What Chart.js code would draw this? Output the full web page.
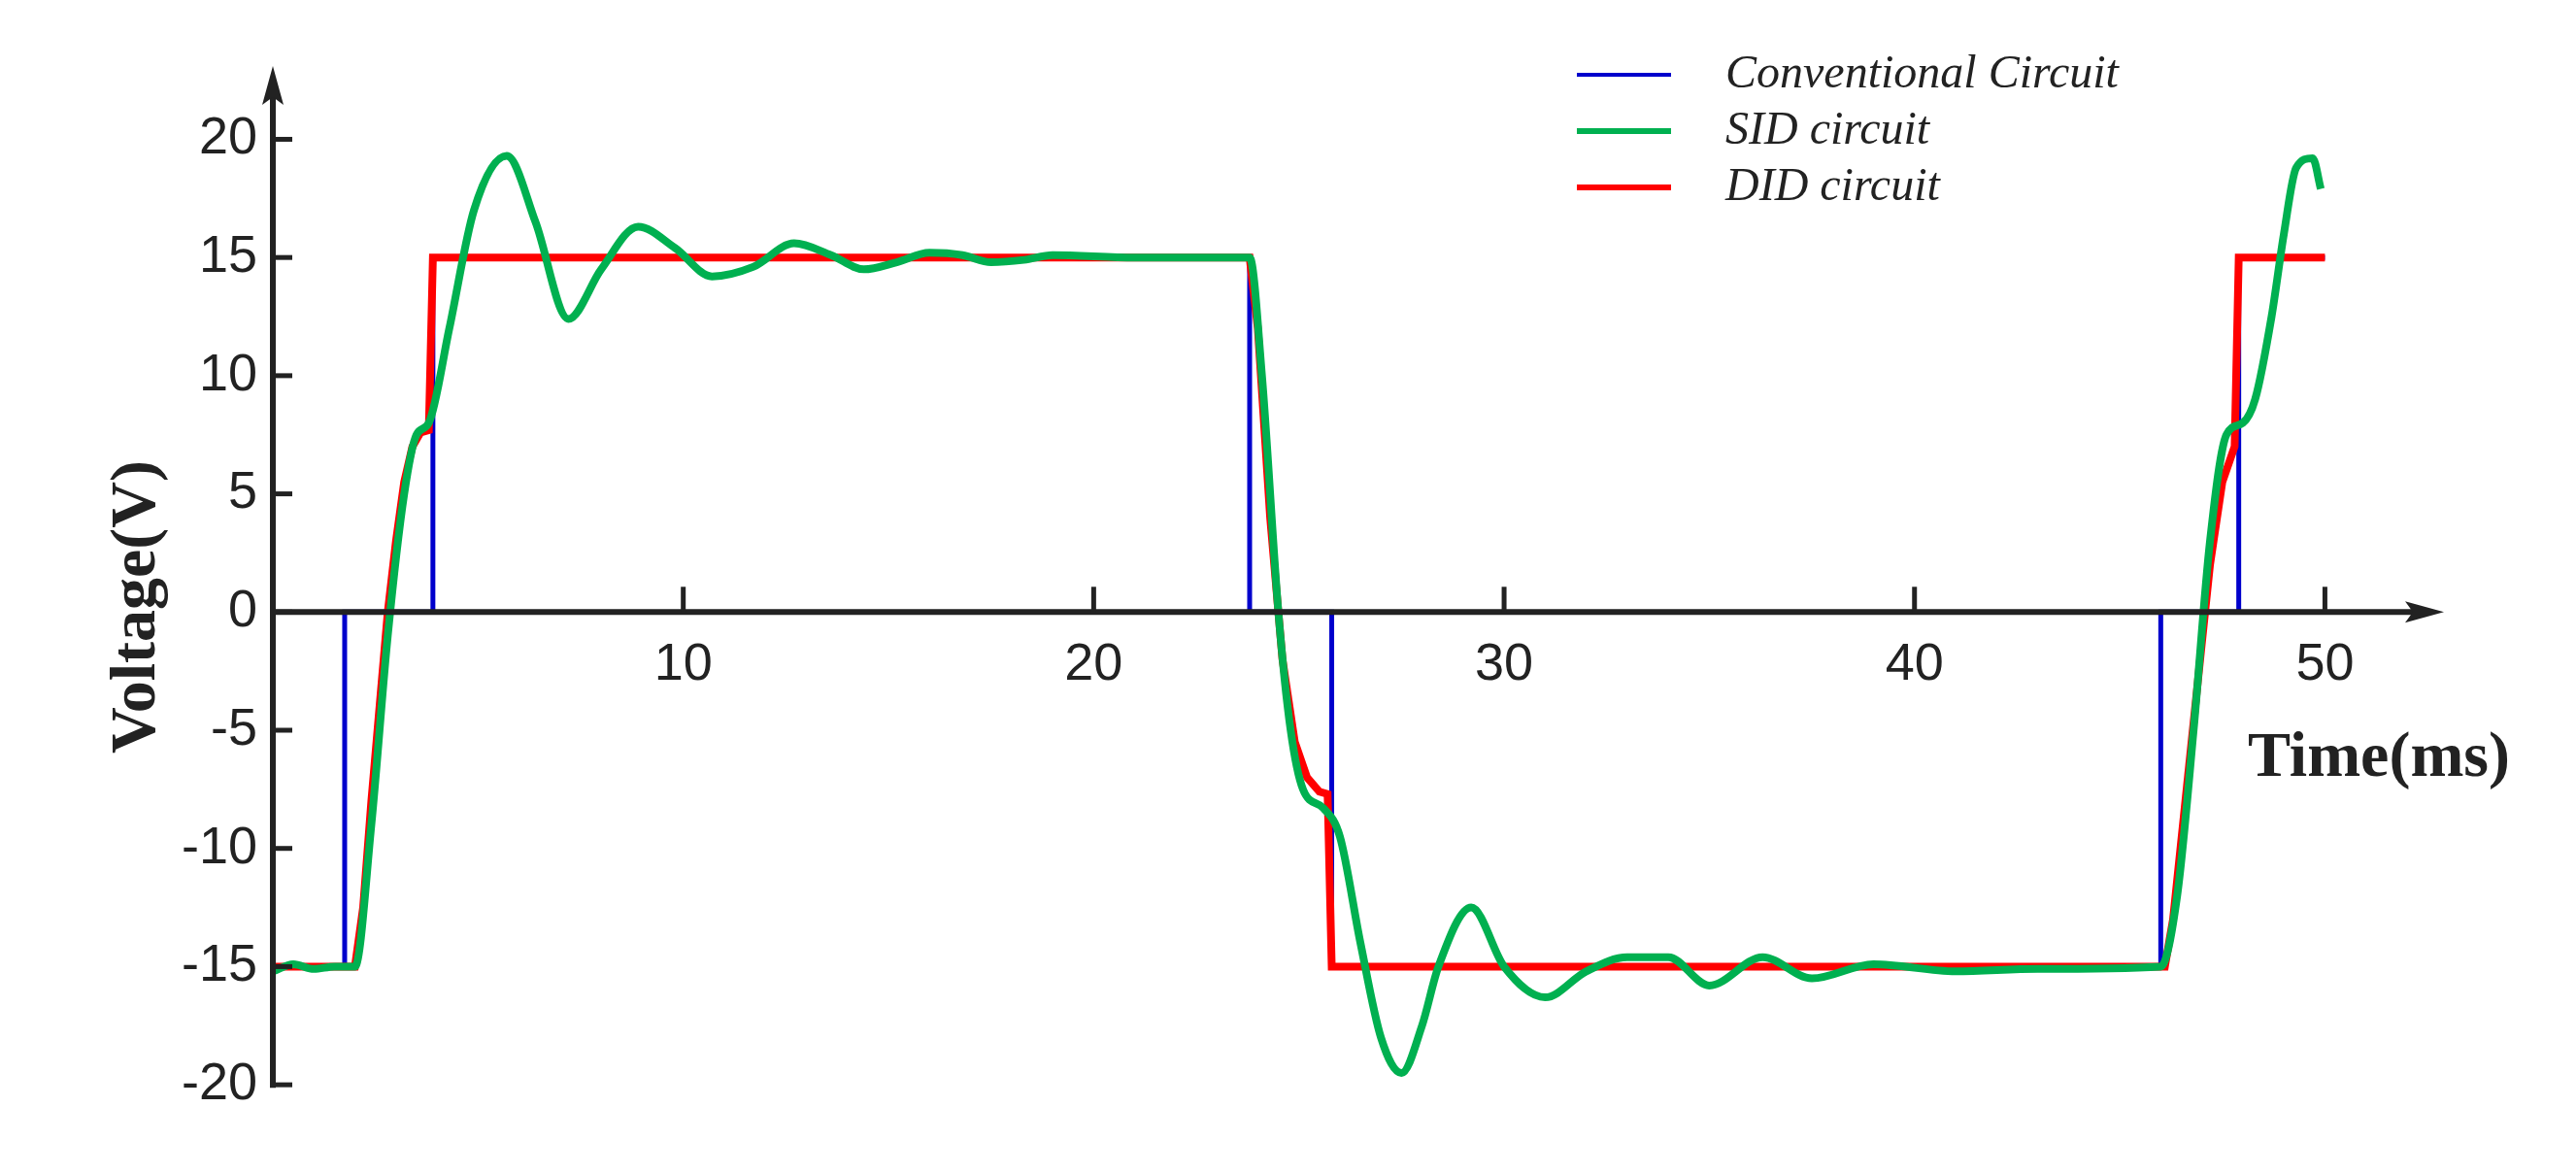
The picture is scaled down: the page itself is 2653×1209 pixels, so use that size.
<!DOCTYPE html>
<html>
<head>
<meta charset="utf-8">
<script src="https://cdn.jsdelivr.net/npm/chart.js@4"></script>
<style>
  html, body { margin: 0; padding: 0; background: #fff; }
  #wrap { width: 2653px; height: 1209px; }
</style>
</head>
<body>
<div id="wrap"><canvas id="c" width="2653" height="1209"></canvas></div>
<script>
// Time (ms) / voltage (V)
const convTime = [0, 1.75, 1.75, 3.9, 3.9, 23.8, 23.8, 25.8, 25.8, 46.0, 46.0, 47.9, 47.9, 50];
const convVolt = [-15, -15, 0, 0, 15, 15, 0, 0, -15, -15, 0, 0, 15, 15];

const didTime = [0, 2.0, 2.2, 2.4, 2.6, 2.8, 3.0, 3.2, 3.4, 3.6, 3.8, 3.9, 23.8, 24.0, 24.3, 24.6, 24.9, 25.2, 25.5, 25.7, 25.8, 46.1, 46.3, 46.6, 46.9, 47.2, 47.5, 47.8, 47.9, 50];
const didVolt = [-15, -15, -12.5, -8, -4, 0, 3, 5.5, 7, 7.6, 7.7, 15, 15, 12, 4, -2, -5.5, -7, -7.6, -7.7, -15, -15, -13, -8, -3, 2, 5.5, 7, 15, 15];

const sidTime = [0, 0.5, 1.0, 1.5, 2.0, 2.4, 2.8, 3.2, 3.5, 3.8, 4.3, 4.9, 5.7, 6.4, 7.2, 8.0, 8.9, 9.8, 10.7, 11.7, 12.7, 13.6, 14.4, 15.2, 16.0, 16.8, 17.5, 18.3, 19.0, 21.0, 23.8, 24.1, 24.5, 24.8, 25.1, 25.6, 26.0, 26.5, 27.0, 27.5, 28.0, 28.4, 29.2, 30.0, 31.0, 32.0, 33.0, 34.0, 35.0, 36.3, 37.5, 39.0, 41.0, 43.0, 46.0, 46.4, 46.8, 47.2, 47.6, 48.0, 48.3, 48.7, 49.0, 49.3, 49.7, 49.9];
const sidVolt = [-15.2, -14.9, -15.1, -15, -15, -9, -1, 5, 7.5, 8, 12, 17, 19.3, 16.5, 12.4, 14.5, 16.3, 15.4, 14.2, 14.6, 15.6, 15.1, 14.5, 14.8, 15.2, 15.1, 14.8, 14.9, 15.1, 15, 15, 10, 0, -5, -7.5, -8.3, -9.5, -14, -18, -19.5, -17.5, -15, -12.5, -15, -16.3, -15.2, -14.6, -14.6, -15.8, -14.6, -15.5, -14.9, -15.2, -15.1, -15, -12, -5, 3, 7.5, 8, 9, 12.5, 16, 18.8, 19.2, 17.9];

const xTicks = [10, 20, 30, 40, 50];
const yTicks = [-20, -15, -10, -5, 0, 5, 10, 15, 20];

function pts(t, v) { return t.map((x, i) => ({ x: x, y: v[i] })); }

const axesPlugin = {
    id: 'axesPlugin',
    afterDatasetsDraw(chart) {
        const ctx = chart.ctx;
        const xs = chart.scales.x, ys = chart.scales.y;
        const x0 = xs.getPixelForValue(0), y0 = ys.getPixelForValue(0);
        const top = chart.chartArea.top, right = chart.chartArea.right;
        const bottom = ys.getPixelForValue(-20);
        ctx.save();
        ctx.strokeStyle = '#222';
        ctx.fillStyle = '#222';
        ctx.lineWidth = 6;
        // y axis
        ctx.beginPath(); ctx.moveTo(x0, bottom + 3); ctx.lineTo(x0, top + 20); ctx.stroke();
        ctx.beginPath(); ctx.moveTo(x0, top); ctx.lineTo(x0 - 11, top + 40); ctx.lineTo(x0, top + 32); ctx.lineTo(x0 + 11, top + 40); ctx.closePath(); ctx.fill();
        // x axis
        ctx.beginPath(); ctx.moveTo(x0, y0); ctx.lineTo(right - 20, y0); ctx.stroke();
        ctx.beginPath(); ctx.moveTo(right, y0); ctx.lineTo(right - 40, y0 - 11); ctx.lineTo(right - 32, y0); ctx.lineTo(right - 40, y0 + 11); ctx.closePath(); ctx.fill();
        ctx.lineWidth = 5;
        ctx.font = '54px "Liberation Sans", Arial, sans-serif';
        ctx.textAlign = 'right'; ctx.textBaseline = 'middle';
        yTicks.forEach(v => {
            const p = ys.getPixelForValue(v);
            ctx.beginPath(); ctx.moveTo(x0, p); ctx.lineTo(x0 + 20, p); ctx.stroke();
            ctx.fillText(String(v), x0 - 16, p);
        });
        ctx.textAlign = 'center'; ctx.textBaseline = 'top';
        xTicks.forEach(v => {
            const p = xs.getPixelForValue(v);
            ctx.beginPath(); ctx.moveTo(p, y0); ctx.lineTo(p, y0 - 26); ctx.stroke();
            ctx.fillText(String(v), p, y0 + 28);
        });
        // axis titles
        ctx.font = 'bold 66px "Liberation Serif", serif';
        ctx.textAlign = 'center'; ctx.textBaseline = 'middle';
        ctx.fillText('Time(ms)', 2450, 782);
        ctx.save();
        ctx.translate(142, 625); ctx.rotate(-Math.PI / 2);
        ctx.fillText('Voltage(V)', 0, 0);
        ctx.restore();
        // legend
        const items = [['Conventional Circuit', '#0000CC', 4], ['SID circuit', '#00B050', 6], ['DID circuit', '#FF0000', 6]];
        ctx.font = 'italic 48px "Liberation Serif", serif';
        ctx.textAlign = 'left';
        items.forEach((it, i) => {
            const y = 77 + i * 58;
            ctx.strokeStyle = it[1]; ctx.lineWidth = it[2];
            ctx.beginPath(); ctx.moveTo(1624, y); ctx.lineTo(1721, y); ctx.stroke();
            ctx.fillText(it[0], 1777, y);
        });
        ctx.restore();
    }
};

new Chart(document.getElementById('c').getContext('2d'), {
    type: 'line',
    data: {
        datasets: [
            { label: 'Conventional Circuit', data: pts(convTime, convVolt), borderColor: '#0000CC', borderWidth: 5, order: 2 },
            { label: 'DID circuit', data: pts(didTime, didVolt), borderColor: '#FF0000', borderWidth: 8, order: 1 },
            { label: 'SID circuit', data: pts(sidTime, sidVolt), borderColor: '#00B050', borderWidth: 8, cubicInterpolationMode: 'monotone', order: 0 }
        ]
    },
    options: {
        responsive: false,
        animation: false,
        devicePixelRatio: 1,
        layout: { padding: { left: 281, right: 136, top: 68, bottom: 87 } },
        elements: { point: { radius: 0 } },
        plugins: { legend: { display: false }, tooltip: { enabled: false } },
        scales: {
            x: { type: 'linear', min: 0, max: 52.9, display: false },
            y: { type: 'linear', min: -20.2, max: 23.1, display: false }
        }
    },
    plugins: [axesPlugin]
});
</script>
</body>
</html>
